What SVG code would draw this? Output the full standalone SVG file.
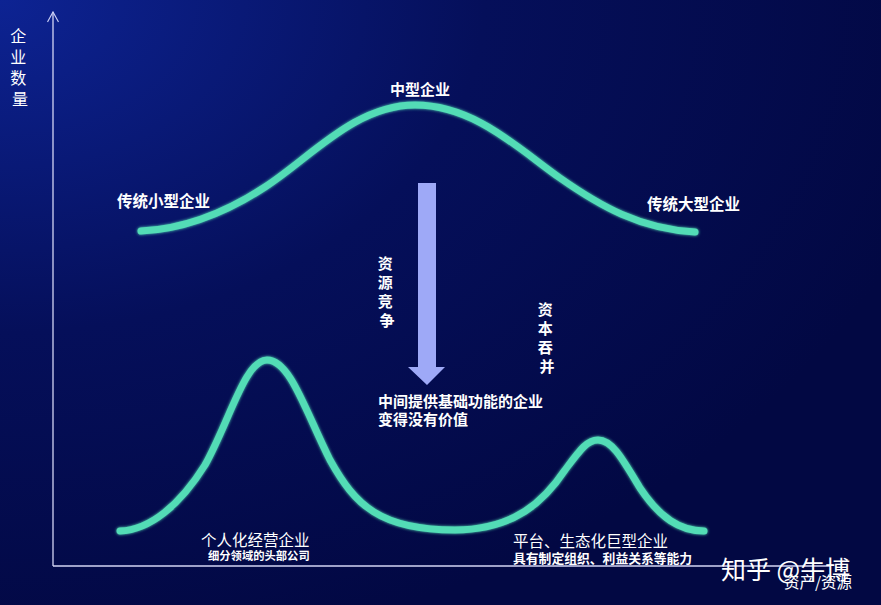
<svg xmlns="http://www.w3.org/2000/svg" width="881" height="605" viewBox="0 0 881 605">
  <defs>
    <radialGradient id="bg" cx="0" cy="0" r="1.1" gradientUnits="objectBoundingBox">
      <stop offset="0" stop-color="#0d2393"/>
      <stop offset="0.5" stop-color="#050f5a"/>
      <stop offset="1" stop-color="#020843"/>
    </radialGradient>
    <marker id="axisHead" viewBox="0 0 12 12" refX="11" refY="6" markerWidth="12" markerHeight="12" markerUnits="userSpaceOnUse" orient="auto">
      <path d="M1,0.5 L11,6 L1,11.5" fill="none" stroke="#c9cdf5" stroke-width="1.2"/>
    </marker>
    <filter id="glow" x="-10%" y="-10%" width="120%" height="120%">
      <feGaussianBlur stdDeviation="1.5" result="b"/>
      <feMerge><feMergeNode in="b"/><feMergeNode in="SourceGraphic"/></feMerge>
    </filter>
  </defs>
  <style>
    .t { font-family: "Noto Sans CJK SC", "Liberation Sans", sans-serif; fill: #ffffff; }
    .b { font-weight: bold; }
    .curve { fill: none; stroke: #52dcb6; stroke-width: 7; stroke-linecap: round; stroke-linejoin: round; }
    .axis { stroke: #d4d6f5; stroke-width: 1.3; fill: none; }
  </style>
  <rect x="0" y="0" width="881" height="605" fill="url(#bg)"/>

  <g id="axes">
    <line class="axis" x1="53" y1="566" x2="53" y2="12" marker-end="url(#axisHead)"/>
    <line class="axis" x1="53" y1="566" x2="830" y2="566"/>
  </g>
  <g id="y-label">
    <text class="t" font-size="16" text-anchor="middle" fill="#e6e8ff">
      <tspan x="20" y="42">企</tspan>
      <tspan x="20" y="63">业</tspan>
      <tspan x="20" y="84">数</tspan>
      <tspan x="20" y="105">量</tspan>
    </text>
  </g>

  <g id="connectors">
    <path id="top-curve" class="curve" filter="url(#glow)" d="M141,231 C185,229 225,213 265,187 C310,158 355,105 415,105 C475,105 520,150 560,178 C600,206 640,229 695,232"/>
    <path id="bottom-curve" class="curve" filter="url(#glow)" d="M120,531 C150,530 180,505 205,465 C230,420 245,360 267,360 C290,360 305,410 330,460 C355,505 380,530 455,530 C515,530 545,500 565,470 C580,450 587,440 598,440 C612,440 622,458 640,488 C660,518 680,531 704,531"/>
    <path id="arrow" fill="#9ea9f7" d="M418,183 L436,183 L436,367 L445,367 L427,385 L408,367 L418,367 Z"/>
  </g>

  <g id="node-mid">
    <text class="t b" x="420" y="95" font-size="15" text-anchor="middle">中型企业</text>
  </g>
  <g id="node-small">
    <text class="t b" x="117" y="207" font-size="15.5">传统小型企业</text>
  </g>
  <g id="node-large">
    <text class="t b" x="647" y="210" font-size="15.5">传统大型企业</text>
  </g>
  <g id="label-resource">
    <text class="t b" font-size="15" text-anchor="middle">
      <tspan x="387" y="269">资</tspan>
      <tspan x="387" y="288">源</tspan>
      <tspan x="387" y="307">竞</tspan>
      <tspan x="387" y="326">争</tspan>
    </text>
  </g>
  <g id="label-merge">
    <text class="t b" font-size="15" text-anchor="middle">
      <tspan x="547" y="315">资</tspan>
      <tspan x="547" y="334">本</tspan>
      <tspan x="547" y="353">吞</tspan>
      <tspan x="547" y="372">并</tspan>
    </text>
  </g>
  <g id="node-middle-text">
    <text class="t b" x="378" y="407" font-size="15">中间提供基础功能的企业</text>
    <text class="t b" x="378" y="425" font-size="15">变得没有价值</text>
  </g>
  <g id="node-personal">
    <text class="t" x="201" y="546" font-size="15.5">个人化经营企业</text>
    <text class="t b" x="208" y="560" font-size="11.3">细分领域的头部公司</text>
  </g>
  <g id="node-platform">
    <text class="t" x="513" y="547" font-size="15.5">平台、生态化巨型企业</text>
    <text class="t b" x="513" y="563" font-size="12.8">具有制定组织、利益关系等能力</text>
  </g>
  <g id="watermark">
    <text class="t" x="721" y="579" font-size="25">知乎 @牛博</text>
    <text class="t" x="784" y="588" font-size="15.5" fill="#e8eaff">资产/资源</text>
  </g>
</svg>
